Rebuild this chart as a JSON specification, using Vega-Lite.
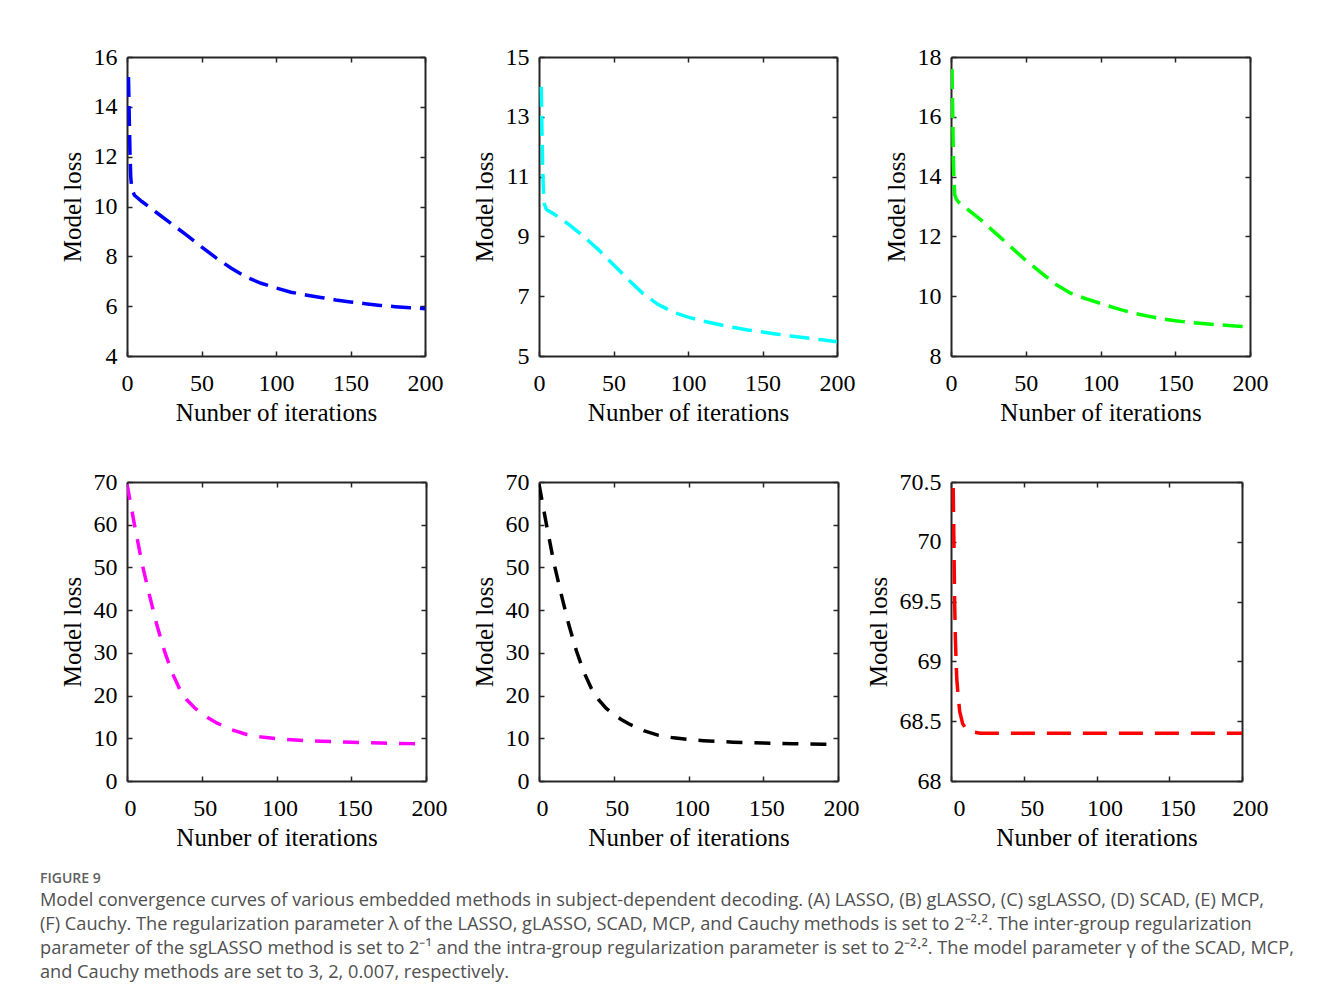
{
  "$schema": "https://vega.github.io/schema/vega-lite/v6.json",
  "background": "white",
  "padding": {"left": 40, "top": 45, "right": 5, "bottom": 5},
  "datasets": {
    "curves": [
      {"p": "A", "x": 1, "y": 15.2}, {"p": "A", "x": 1.5, "y": 13.6}, {"p": "A", "x": 2, "y": 12.2}, {"p": "A", "x": 2.5, "y": 11.2}, {"p": "A", "x": 3.2, "y": 10.7}, {"p": "A", "x": 5, "y": 10.45}, {"p": "A", "x": 10, "y": 10.2}, {"p": "A", "x": 20, "y": 9.75}, {"p": "A", "x": 30, "y": 9.3}, {"p": "A", "x": 40, "y": 8.85}, {"p": "A", "x": 50, "y": 8.38}, {"p": "A", "x": 60, "y": 7.93}, {"p": "A", "x": 70, "y": 7.52}, {"p": "A", "x": 80, "y": 7.17}, {"p": "A", "x": 90, "y": 6.92}, {"p": "A", "x": 100, "y": 6.73}, {"p": "A", "x": 110, "y": 6.56}, {"p": "A", "x": 120, "y": 6.45}, {"p": "A", "x": 130, "y": 6.35}, {"p": "A", "x": 140, "y": 6.25}, {"p": "A", "x": 150, "y": 6.17}, {"p": "A", "x": 160, "y": 6.1}, {"p": "A", "x": 170, "y": 6.03}, {"p": "A", "x": 180, "y": 5.98}, {"p": "A", "x": 190, "y": 5.94}, {"p": "A", "x": 200, "y": 5.9},
      {"p": "B", "x": 1.5, "y": 14.0}, {"p": "B", "x": 2, "y": 12.5}, {"p": "B", "x": 2.5, "y": 11.2}, {"p": "B", "x": 3, "y": 10.5}, {"p": "B", "x": 3.5, "y": 10.1}, {"p": "B", "x": 5, "y": 9.9}, {"p": "B", "x": 10, "y": 9.75}, {"p": "B", "x": 20, "y": 9.4}, {"p": "B", "x": 30, "y": 9.0}, {"p": "B", "x": 40, "y": 8.55}, {"p": "B", "x": 50, "y": 8.05}, {"p": "B", "x": 60, "y": 7.55}, {"p": "B", "x": 70, "y": 7.08}, {"p": "B", "x": 80, "y": 6.72}, {"p": "B", "x": 90, "y": 6.47}, {"p": "B", "x": 100, "y": 6.3}, {"p": "B", "x": 110, "y": 6.17}, {"p": "B", "x": 120, "y": 6.06}, {"p": "B", "x": 130, "y": 5.96}, {"p": "B", "x": 140, "y": 5.87}, {"p": "B", "x": 150, "y": 5.8}, {"p": "B", "x": 160, "y": 5.73}, {"p": "B", "x": 170, "y": 5.66}, {"p": "B", "x": 180, "y": 5.6}, {"p": "B", "x": 190, "y": 5.54}, {"p": "B", "x": 200, "y": 5.48},
      {"p": "C", "x": 0.7, "y": 17.6}, {"p": "C", "x": 1.2, "y": 16.0}, {"p": "C", "x": 1.6, "y": 14.5}, {"p": "C", "x": 2, "y": 13.8}, {"p": "C", "x": 2.5, "y": 13.4}, {"p": "C", "x": 3.5, "y": 13.25}, {"p": "C", "x": 5, "y": 13.15}, {"p": "C", "x": 10, "y": 12.95}, {"p": "C", "x": 20, "y": 12.55}, {"p": "C", "x": 30, "y": 12.1}, {"p": "C", "x": 40, "y": 11.65}, {"p": "C", "x": 50, "y": 11.2}, {"p": "C", "x": 60, "y": 10.8}, {"p": "C", "x": 70, "y": 10.4}, {"p": "C", "x": 80, "y": 10.1}, {"p": "C", "x": 90, "y": 9.92}, {"p": "C", "x": 100, "y": 9.76}, {"p": "C", "x": 110, "y": 9.6}, {"p": "C", "x": 120, "y": 9.46}, {"p": "C", "x": 130, "y": 9.35}, {"p": "C", "x": 140, "y": 9.25}, {"p": "C", "x": 150, "y": 9.18}, {"p": "C", "x": 160, "y": 9.12}, {"p": "C", "x": 170, "y": 9.08}, {"p": "C", "x": 180, "y": 9.04}, {"p": "C", "x": 190, "y": 9.0}, {"p": "C", "x": 200, "y": 8.97},
      {"p": "D", "x": 0, "y": 69.5}, {"p": "D", "x": 5, "y": 60}, {"p": "D", "x": 10, "y": 51}, {"p": "D", "x": 15, "y": 43.5}, {"p": "D", "x": 20, "y": 36.5}, {"p": "D", "x": 25, "y": 30.5}, {"p": "D", "x": 30, "y": 25.5}, {"p": "D", "x": 35, "y": 21.7}, {"p": "D", "x": 40, "y": 19}, {"p": "D", "x": 45, "y": 17.2}, {"p": "D", "x": 50, "y": 15.8}, {"p": "D", "x": 55, "y": 14.6}, {"p": "D", "x": 60, "y": 13.6}, {"p": "D", "x": 70, "y": 12.0}, {"p": "D", "x": 80, "y": 10.9}, {"p": "D", "x": 90, "y": 10.3}, {"p": "D", "x": 100, "y": 9.9}, {"p": "D", "x": 110, "y": 9.65}, {"p": "D", "x": 120, "y": 9.45}, {"p": "D", "x": 130, "y": 9.3}, {"p": "D", "x": 140, "y": 9.2}, {"p": "D", "x": 150, "y": 9.08}, {"p": "D", "x": 160, "y": 9.0}, {"p": "D", "x": 170, "y": 8.9}, {"p": "D", "x": 180, "y": 8.8}, {"p": "D", "x": 190, "y": 8.75}, {"p": "D", "x": 198, "y": 8.7},
      {"p": "E", "x": 0, "y": 69.5}, {"p": "E", "x": 5, "y": 60}, {"p": "E", "x": 10, "y": 51}, {"p": "E", "x": 15, "y": 43.5}, {"p": "E", "x": 20, "y": 36.5}, {"p": "E", "x": 25, "y": 30.5}, {"p": "E", "x": 30, "y": 25.5}, {"p": "E", "x": 35, "y": 21.7}, {"p": "E", "x": 40, "y": 19}, {"p": "E", "x": 45, "y": 17.0}, {"p": "E", "x": 50, "y": 15.6}, {"p": "E", "x": 55, "y": 14.4}, {"p": "E", "x": 60, "y": 13.4}, {"p": "E", "x": 70, "y": 11.8}, {"p": "E", "x": 80, "y": 10.7}, {"p": "E", "x": 90, "y": 10.1}, {"p": "E", "x": 100, "y": 9.7}, {"p": "E", "x": 110, "y": 9.45}, {"p": "E", "x": 120, "y": 9.25}, {"p": "E", "x": 130, "y": 9.1}, {"p": "E", "x": 140, "y": 9.0}, {"p": "E", "x": 150, "y": 8.9}, {"p": "E", "x": 160, "y": 8.8}, {"p": "E", "x": 170, "y": 8.72}, {"p": "E", "x": 180, "y": 8.65}, {"p": "E", "x": 190, "y": 8.6}, {"p": "E", "x": 198, "y": 8.55},
      {"p": "F", "x": 1.5, "y": 70.45}, {"p": "F", "x": 2, "y": 70.0}, {"p": "F", "x": 2.5, "y": 69.5}, {"p": "F", "x": 3, "y": 69.2}, {"p": "F", "x": 3.5, "y": 69.0}, {"p": "F", "x": 4, "y": 68.85}, {"p": "F", "x": 5, "y": 68.7}, {"p": "F", "x": 6, "y": 68.58}, {"p": "F", "x": 8, "y": 68.48}, {"p": "F", "x": 10, "y": 68.44}, {"p": "F", "x": 15, "y": 68.41}, {"p": "F", "x": 20, "y": 68.4}, {"p": "F", "x": 50, "y": 68.4}, {"p": "F", "x": 100, "y": 68.4}, {"p": "F", "x": 150, "y": 68.4}, {"p": "F", "x": 200, "y": 68.4}
    ]
  },
  "title": {
    "text": "FIGURE 9",
    "subtitle": [
      "Model convergence curves of various embedded methods in subject-dependent decoding. (A) LASSO, (B) gLASSO, (C) sgLASSO, (D) SCAD, (E) MCP,",
      "(F) Cauchy. The regularization parameter λ of the LASSO, gLASSO, SCAD, MCP, and Cauchy methods is set to 2⁻²·². The inter-group regularization",
      "parameter of the sgLASSO method is set to 2⁻¹ and the intra-group regularization parameter is set to 2⁻²·². The model parameter γ of the SCAD, MCP,",
      "and Cauchy methods are set to 3, 2, 0.007, respectively."
    ],
    "orient": "bottom",
    "anchor": "start",
    "frame": "group",
    "dx": -87,
    "offset": 22,
    "font": "Open Sans",
    "fontSize": 14,
    "fontWeight": 600,
    "color": "#606060",
    "subtitleFont": "Open Sans",
    "subtitleFontSize": 18.2,
    "subtitleColor": "#505050",
    "subtitleLineHeight": 24,
    "subtitlePadding": 6
  },
  "columns": 3,
  "spacing": {"row": 126, "column": 113},
  "bounds": "flush",
  "concat": [
    {
      "width": 298, "height": 299,
      "data": {"name": "curves"},
      "transform": [{"filter": "datum.p === 'A'"}],
      "layer": [
        {"mark": {"type": "line", "color": "#0000ff", "strokeWidth": 3.5, "strokeDash": [20, 9], "clip": true},
         "encoding": {
           "x": {"field": "x", "type": "quantitative", "scale": {"domain": [0, 200]}, "axis": {"orient": "bottom", "values": [0, 50, 100, 150, 200], "title": "Nunber of iterations"}},
           "y": {"field": "y", "type": "quantitative", "scale": {"domain": [4, 16]}, "axis": {"orient": "left", "values": [4, 6, 8, 10, 12, 14, 16], "title": "Model loss"}}}},
        {"mark": {"type": "line", "opacity": 0},
         "encoding": {
           "x": {"field": "x", "type": "quantitative", "scale": {"domain": [0, 200]}, "axis": {"orient": "top", "values": [0, 50, 100, 150, 200], "labels": false, "title": null}},
           "y": {"field": "y", "type": "quantitative", "scale": {"domain": [4, 16]}, "axis": {"orient": "right", "values": [4, 6, 8, 10, 12, 14, 16], "labels": false, "title": null}}}}
      ],
      "resolve": {"axis": {"x": "independent", "y": "independent"}}
    },
    {
      "width": 298, "height": 299,
      "data": {"name": "curves"},
      "transform": [{"filter": "datum.p === 'B'"}],
      "layer": [
        {"mark": {"type": "line", "color": "#00ffff", "strokeWidth": 3.5, "strokeDash": [20, 9], "clip": true},
         "encoding": {
           "x": {"field": "x", "type": "quantitative", "scale": {"domain": [0, 200]}, "axis": {"orient": "bottom", "values": [0, 50, 100, 150, 200], "title": "Nunber of iterations"}},
           "y": {"field": "y", "type": "quantitative", "scale": {"domain": [5, 15]}, "axis": {"orient": "left", "values": [5, 7, 9, 11, 13, 15], "title": "Model loss"}}}},
        {"mark": {"type": "line", "opacity": 0},
         "encoding": {
           "x": {"field": "x", "type": "quantitative", "scale": {"domain": [0, 200]}, "axis": {"orient": "top", "values": [0, 50, 100, 150, 200], "labels": false, "title": null}},
           "y": {"field": "y", "type": "quantitative", "scale": {"domain": [5, 15]}, "axis": {"orient": "right", "values": [5, 7, 9, 11, 13, 15], "labels": false, "title": null}}}}
      ],
      "resolve": {"axis": {"x": "independent", "y": "independent"}}
    },
    {
      "width": 299, "height": 299,
      "data": {"name": "curves"},
      "transform": [{"filter": "datum.p === 'C'"}],
      "layer": [
        {"mark": {"type": "line", "color": "#00ff00", "strokeWidth": 3.5, "strokeDash": [20, 9], "clip": true},
         "encoding": {
           "x": {"field": "x", "type": "quantitative", "scale": {"domain": [0, 200]}, "axis": {"orient": "bottom", "values": [0, 50, 100, 150, 200], "title": "Nunber of iterations"}},
           "y": {"field": "y", "type": "quantitative", "scale": {"domain": [8, 18]}, "axis": {"orient": "left", "values": [8, 10, 12, 14, 16, 18], "title": "Model loss"}}}},
        {"mark": {"type": "line", "opacity": 0},
         "encoding": {
           "x": {"field": "x", "type": "quantitative", "scale": {"domain": [0, 200]}, "axis": {"orient": "top", "values": [0, 50, 100, 150, 200], "labels": false, "title": null}},
           "y": {"field": "y", "type": "quantitative", "scale": {"domain": [8, 18]}, "axis": {"orient": "right", "values": [8, 10, 12, 14, 16, 18], "labels": false, "title": null}}}}
      ],
      "resolve": {"axis": {"x": "independent", "y": "independent"}}
    },
    {
      "width": 299, "height": 299,
      "data": {"name": "curves"},
      "transform": [{"filter": "datum.p === 'D'"}],
      "layer": [
        {"mark": {"type": "line", "color": "#ff00ff", "strokeWidth": 3.5, "strokeDash": [16, 12], "clip": true},
         "encoding": {
           "x": {"field": "x", "type": "quantitative", "scale": {"domain": [0, 200]}, "axis": {"orient": "bottom", "values": [0, 50, 100, 150, 200], "labelOffset": 3, "title": "Nunber of iterations"}},
           "y": {"field": "y", "type": "quantitative", "scale": {"domain": [0, 70]}, "axis": {"orient": "left", "values": [0, 10, 20, 30, 40, 50, 60, 70], "title": "Model loss"}}}},
        {"mark": {"type": "line", "opacity": 0},
         "encoding": {
           "x": {"field": "x", "type": "quantitative", "scale": {"domain": [0, 200]}, "axis": {"orient": "top", "values": [0, 50, 100, 150, 200], "labels": false, "title": null}},
           "y": {"field": "y", "type": "quantitative", "scale": {"domain": [0, 70]}, "axis": {"orient": "right", "values": [0, 10, 20, 30, 40, 50, 60, 70], "labels": false, "title": null}}}}
      ],
      "resolve": {"axis": {"x": "independent", "y": "independent"}}
    },
    {
      "width": 299, "height": 299,
      "data": {"name": "curves"},
      "transform": [{"filter": "datum.p === 'E'"}],
      "layer": [
        {"mark": {"type": "line", "color": "#000000", "strokeWidth": 3.5, "strokeDash": [16, 12], "clip": true},
         "encoding": {
           "x": {"field": "x", "type": "quantitative", "scale": {"domain": [0, 200]}, "axis": {"orient": "bottom", "values": [0, 50, 100, 150, 200], "labelOffset": 3, "title": "Nunber of iterations"}},
           "y": {"field": "y", "type": "quantitative", "scale": {"domain": [0, 70]}, "axis": {"orient": "left", "values": [0, 10, 20, 30, 40, 50, 60, 70], "title": "Model loss"}}}},
        {"mark": {"type": "line", "opacity": 0},
         "encoding": {
           "x": {"field": "x", "type": "quantitative", "scale": {"domain": [0, 200]}, "axis": {"orient": "top", "values": [0, 50, 100, 150, 200], "labels": false, "title": null}},
           "y": {"field": "y", "type": "quantitative", "scale": {"domain": [0, 70]}, "axis": {"orient": "right", "values": [0, 10, 20, 30, 40, 50, 60, 70], "labels": false, "title": null}}}}
      ],
      "resolve": {"axis": {"x": "independent", "y": "independent"}}
    },
    {
      "width": 291, "height": 299,
      "data": {"name": "curves"},
      "transform": [{"filter": "datum.p === 'F'"}],
      "layer": [
        {"mark": {"type": "line", "color": "#ff0000", "strokeWidth": 3.5, "strokeDash": [24, 12], "clip": true},
         "encoding": {
           "x": {"field": "x", "type": "quantitative", "scale": {"domain": [0, 200]}, "axis": {"orient": "bottom", "values": [0, 50, 100, 150, 200], "labelOffset": 8, "title": "Nunber of iterations"}},
           "y": {"field": "y", "type": "quantitative", "scale": {"domain": [68, 70.5]}, "axis": {"orient": "left", "values": [68, 68.5, 69, 69.5, 70, 70.5], "title": "Model loss"}}}},
        {"mark": {"type": "line", "opacity": 0},
         "encoding": {
           "x": {"field": "x", "type": "quantitative", "scale": {"domain": [0, 200]}, "axis": {"orient": "top", "values": [0, 50, 100, 150, 200], "labels": false, "title": null}},
           "y": {"field": "y", "type": "quantitative", "scale": {"domain": [68, 70.5]}, "axis": {"orient": "right", "values": [68, 68.5, 69, 69.5, 70, 70.5], "labels": false, "title": null}}}}
      ],
      "resolve": {"axis": {"x": "independent", "y": "independent"}}
    }
  ],
  "config": {
    "view": {"stroke": null},
    "axis": {
      "grid": false,
      "format": "~r",
      "labelFont": "Liberation Serif",
      "labelFontSize": 24,
      "labelColor": "#000000",
      "labelFlush": false,
      "labelOverlap": false,
      "titleFont": "Liberation Serif",
      "titleFontSize": 25,
      "titleFontWeight": "normal",
      "titleColor": "#000000",
      "domainColor": "#262626",
      "domainWidth": 2,
      "tickColor": "#262626",
      "tickWidth": 1.5,
      "tickSize": -5
    },
    "axisX": {"titlePadding": 5, "labelPadding": 20},
    "axisY": {"titlePadding": 8, "labelPadding": 15}
  }
}
